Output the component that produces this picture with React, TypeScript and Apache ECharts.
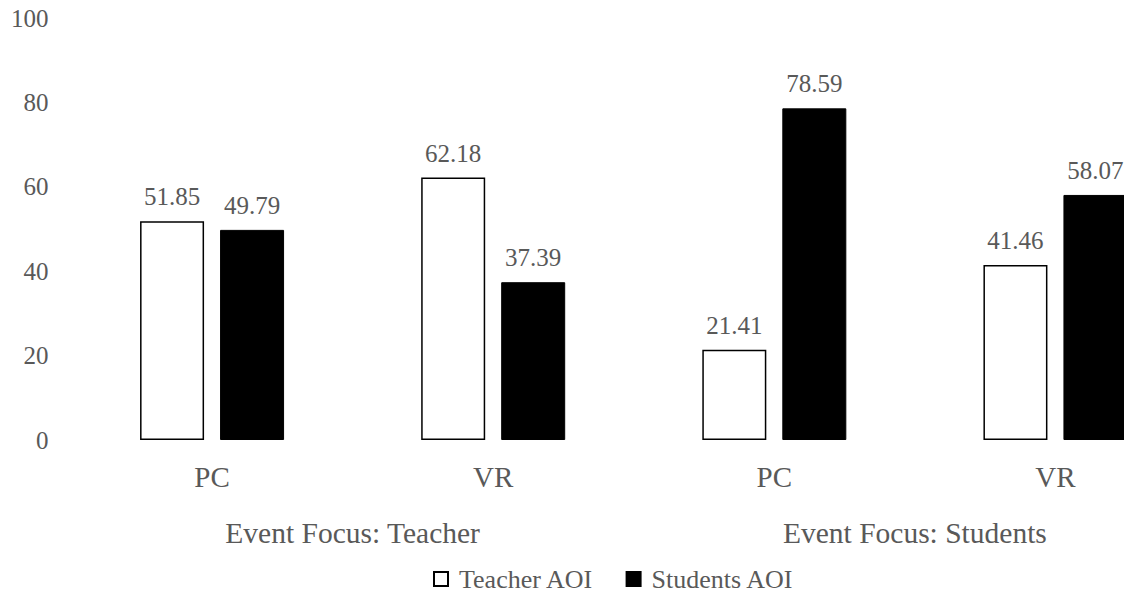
import React, { useEffect, useRef } from "react";
import * as echarts from "echarts";

// Categories and values
const conditions = ["PC", "VR", "PC", "VR"];
const eventFocusGroups = ["Event Focus: Teacher", "Event Focus: Students"];
const teacherAOI = [51.85, 62.18, 21.41, 41.46];
const studentsAOI = [49.79, 37.39, 78.59, 58.07];
const seriesNames = ["Teacher AOI", "Students AOI"];

const FONT = '"Times New Roman", "Liberation Serif", Times, "DejaVu Serif", serif';
const TEXT = "#595959";

export default function App() {
  const ref = useRef<HTMLDivElement>(null);

  useEffect(() => {
    if (!ref.current) return;
    const chart = echarts.init(ref.current, undefined, { renderer: "svg" });

    const valueLabel = {
      show: true,
      position: "top",
      distance: 12,
      fontFamily: FONT,
      fontSize: 25,
      color: TEXT,
      formatter: (p: any) => p.value.toFixed(2),
    };

    chart.setOption({
      animation: false,
      backgroundColor: "#ffffff",
      textStyle: { fontFamily: FONT },
      grid: { left: 71.5, top: 18, width: 1124.5, height: 422, containLabel: false },
      legend: {
        left: 428,
        top: 561,
        itemWidth: 14,
        itemHeight: 14,
        itemGap: 32,
        icon: "rect",
        textStyle: { fontFamily: FONT, fontSize: 26, color: TEXT, padding: [0, 0, 0, 6] },
        data: seriesNames,
      },
      xAxis: [
        {
          type: "category",
          data: conditions,
          axisLine: { show: false },
          axisTick: { show: false },
          axisLabel: { fontFamily: FONT, fontSize: 29, color: TEXT, margin: 22 },
        },
        {
          type: "category",
          data: eventFocusGroups,
          position: "bottom",
          offset: 78,
          axisLine: { show: false },
          axisTick: { show: false },
          axisLabel: { fontFamily: FONT, fontSize: 29.5, color: TEXT, margin: 0 },
        },
      ],
      yAxis: {
        type: "value",
        min: 0,
        max: 100,
        interval: 20,
        axisLine: { show: false },
        axisTick: { show: false },
        splitLine: { show: false },
        axisLabel: { fontFamily: FONT, fontSize: 25, color: TEXT, margin: 23 },
      },
      series: [
        {
          name: seriesNames[0],
          type: "bar",
          xAxisIndex: 0,
          data: teacherAOI,
          barWidth: 64,
          barGap: "25%",
          itemStyle: { color: "#ffffff", borderColor: "#000000", borderWidth: 1.5 },
          label: valueLabel,
        },
        {
          name: seriesNames[1],
          type: "bar",
          xAxisIndex: 0,
          data: studentsAOI,
          barWidth: 64,
          barGap: "25%",
          itemStyle: { color: "#000000", borderColor: "#000000", borderWidth: 1 },
          label: valueLabel,
        },
      ],
    });

    return () => chart.dispose();
  }, []);

  // The chart canvas runs past the right edge of the window; the overflow is clipped.
  return (
    <div
      ref={ref}
      style={{ position: "fixed", left: 0, top: 0, width: 1196, height: 601, background: "#fff" }}
    />
  );
}
